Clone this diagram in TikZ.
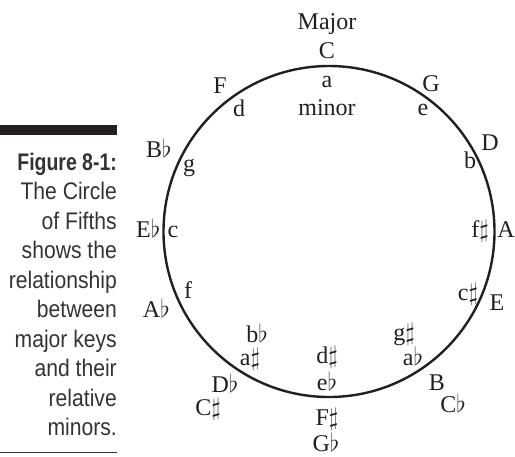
\documentclass[tikz,border=0pt]{standalone}
\usepackage{fontspec}
\setmainfont{Liberation Serif}
\newfontfamily\capfont[FakeStretch=0.88]{Liberation Sans}
\newfontfamily\capboldfont[FakeStretch=0.81]{Liberation Sans}
\newcommand\kflat{\ensuremath{\flat}}
\newcommand\ksharp{\ensuremath{\sharp}}
\definecolor{ink}{HTML}{231F20}
\definecolor{capink}{HTML}{333333}
\begin{document}
\begin{tikzpicture}[x=1pt,y=-1pt,
  lab/.style={inner sep=0pt,anchor=base,text=ink,font=\fontsize{24}{28}\selectfont},
  labw/.style={lab,anchor=base west},
  labe/.style={lab,anchor=base east},
  captxt/.style={inner sep=0pt,anchor=base east,text=capink,font=\capfont\fontsize{24}{28}\selectfont},
  capbold/.style={captxt,font=\capboldfont\bfseries\fontsize{24}{28}\selectfont},
  ring/.style={circle,draw=ink,line width=2.4pt,minimum size=331pt,inner sep=0pt}]
\useasboundingbox (0,0) rectangle (515,456);
% caption rules
\fill[ink] (0,125) rectangle (117,135);
\coordinate (rl) at (0,452.5);
\coordinate (rr) at (117,452.5);
\draw[capink,line width=1.3pt] (rl) -- (rr);
% caption
\node[capbold] (c0) at (117,170) {Figure 8-1:};
\node[captxt] (c1) at (117,199.5) {The Circle};
\node[captxt] (c2) at (117,229) {of Fifths};
\node[captxt] (c3) at (117,258.5) {shows the};
\node[captxt] (c4) at (117,288) {relationship};
\node[captxt] (c5) at (117,317.5) {between};
\node[captxt] (c6) at (117,347) {major keys};
\node[captxt] (c7) at (117,376.5) {and their};
\node[captxt] (c8) at (117,406) {relative};
\node[captxt] (c9) at (117,435.5) {minors.};
% circle
\node[ring] (circ) at (329,231.5) {};
% labels
\node[lab] (major) at (327,29) {Major};
\node[lab] (kC) at (327,58) {C};
\node[lab] (ka) at (327,87) {a};
\node[lab] (minor) at (327,115) {minor};
\node[lab] (kF) at (220,93) {F};
\node[lab] (kd) at (239,116) {d};
\node[lab] (kG) at (431,91) {G};
\node[lab] (ke) at (423,115) {e};
\node[lab] (kD) at (490,150) {D};
\node[lab] (kb) at (470,168) {b};
\node[labw] (kBb) at (146,157) {B\kflat};
\node[lab] (kg) at (189,171) {g};
\node[labw] (kEb) at (136,237) {E\kflat};
\node[lab] (kc) at (173,237) {c};
\node[lab] (kfs) at (480,237) {f\ksharp};
\node[labe] (kA) at (515,237) {A};
\node[lab] (kf) at (188,298) {f};
\node[lab] (kcs) at (468,300) {c\ksharp};
\node[labe] (kAb) at (170,317) {A\kflat};
\node[lab] (kE) at (497,310) {E};
\node[lab] (kbb) at (257,342) {b\kflat};
\node[lab] (kas) at (250,365) {a\ksharp};
\node[lab] (kDb) at (225,392) {D\kflat};
\node[lab] (kCs) at (208,415) {C\ksharp};
\node[lab] (kds) at (327,363) {d\ksharp};
\node[lab] (keb) at (327,390) {e\kflat};
\node[lab] (kFs) at (327,425) {F\ksharp};
\node[lab] (kGb) at (326,451) {G\kflat};
\node[lab] (kgs) at (404,340) {g\ksharp};
\node[lab] (kab) at (413,365) {a\kflat};
\node[lab] (kB) at (437,390) {B};
\node[lab] (kCb) at (453,412) {C\kflat};
\end{tikzpicture}
\end{document}
